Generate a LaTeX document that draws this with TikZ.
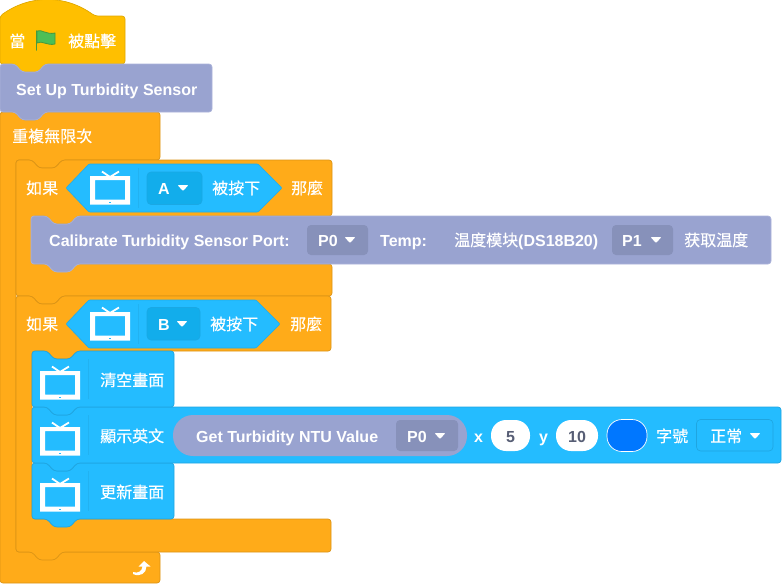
\documentclass[tikz,border=0pt]{standalone}
\usepackage{fontspec}
\setmainfont{Liberation Sans}
\newfontfamily\cjk[FakeBold=0.35]{Noto Sans CJK TC}
\newfontfamily\cjksc[FakeBold=0.35]{Noto Sans CJK SC}
\usepackage{xcolor}
\usepackage{tikz}
\usetikzlibrary{calc}

\definecolor{hatcol}{HTML}{FFBF00}
\definecolor{hatedge}{HTML}{E0A800}
\definecolor{ctrlcol}{HTML}{FFAB19}
\definecolor{ctrledge}{HTML}{DB9416}
\definecolor{sensorcol}{HTML}{99A3D0}
\definecolor{sensoredge}{HTML}{ABB3D9}
\definecolor{sensorfield}{HTML}{8791BA}
\definecolor{tvcol}{HTML}{24BCFF}
\definecolor{tvedge}{HTML}{1FA5E0}
\definecolor{tvfield}{HTML}{12ADEB}
\definecolor{swatch}{HTML}{0077FF}
\definecolor{flagcol}{HTML}{4CBF56}
\definecolor{flagedge}{HTML}{45993D}
\definecolor{numtext}{HTML}{575E75}

\tikzset{
  block/.style={line width=0.7pt,rounded corners=3pt},
  latin/.style={text=white,inner sep=0pt,anchor=base west,font=\fontsize{16}{16}\selectfont\bfseries},
  zh/.style={text=white,inner sep=0pt,anchor=base west,font=\fontsize{16}{16}\selectfont\cjk},
  zhsc/.style={zh,font=\fontsize{16}{16}\selectfont\cjksc},
  num/.style={text=numtext,inner sep=0pt,anchor=base,font=\fontsize{16}{16}\selectfont\bfseries},
  sepline/.style={line width=0.7pt,draw=tvedge!45!tvcol},
}

% Notches, going right or going left
\def\notchR#1#2{-- (#1,#2) -- ++(7,8) -- ++(16,0) -- ++(7,-8)}
\def\notchL#1#2{-- (#1+30,#2) -- ++(-7,8) -- ++(-16,0) -- ++(-7,-8)}

% Screen icon, #1,#2 is the top left of the body
\newcommand{\tvicon}[2]{%
  \draw[white,line width=1.8pt] (#1+12,#2-4.5) -- (#1+20,#2+1) -- (#1+29,#2-4.5);
  \fill[white,even odd rule] (#1,#2) rectangle (#1+40,#2+28.5)
    (#1+5,#2+4) rectangle (#1+35,#2+23.5);
  \fill[tvcol] (#1+19,#2+25.5) rectangle (#1+21,#2+27);
}
% Dropdown arrow
\newcommand{\ddarrow}[2]{%
  \fill[white,rounded corners=1pt] (#1-5.5,#2-3) -- (#1+5.5,#2-3) -- (#1,#2+3) -- cycle;
}

\begin{document}
\begin{tikzpicture}[x=1pt,y=-1pt]
\useasboundingbox (0,0) rectangle (782,584);
% Forever
\draw[block,draw=ctrledge,fill=ctrlcol] (0,112) \notchR{15}{112} -- (160,112) -- (160,160)
  \notchL{32}{160} -- (16,160) -- (16,552) -- (160,552) -- (160,583) -- (0,583) -- cycle;
% If A
\draw[block,draw=ctrledge,fill=ctrlcol] (16,160) \notchR{32}{160} -- (332,160) -- (332,216)
  \notchL{47}{216} -- (32,216) -- (32,264) -- (332,264) -- (332,296)
  \notchL{32}{296} -- (16,296) -- cycle;
% If B
\draw[block,draw=ctrledge,fill=ctrlcol] (16,296) \notchR{32}{296} -- (331,296) -- (331,351)
  \notchL{47}{351} -- (32,351) -- (32,519) -- (331,519) -- (331,552)
  \notchL{32}{552} -- (16,552) -- cycle;
% Hat
\draw[block,draw=hatedge,fill=hatcol] (0,64) -- (0,16) .. controls (30,-5.5) and (65,-5.5) .. (95,16)
  -- (125,16) -- (125,64) \notchL{15}{64} -- cycle;
% Sensor setup
\draw[block,draw=sensoredge,fill=sensorcol] (0,64) \notchR{15}{64} -- (212,64) -- (212,112)
  \notchL{15}{112} -- (0,112) -- cycle;
% Calibrate
\draw[block,draw=sensoredge,fill=sensorcol] (31,216) \notchR{47}{216} -- (771,216) -- (771,264)
  \notchL{47}{264} -- (31,264) -- cycle;
% Screen stack
\draw[block,draw=tvedge,fill=tvcol] (32,463) \notchR{47}{463} -- (174,463) -- (174,519)
  \notchL{47}{519} -- (32,519) -- cycle;
\draw[block,draw=tvedge,fill=tvcol] (32,407) \notchR{47}{407} -- (781,407) -- (781,463)
  \notchL{47}{463} -- (32,463) -- cycle;
\draw[block,draw=tvedge,fill=tvcol] (32,351) \notchR{47}{351} -- (174,351) -- (174,407)
  \notchL{47}{407} -- (32,407) -- cycle;
% Hexagons
\filldraw[line width=0.6pt,draw=tvedge!70!tvcol,fill=tvcol,rounded corners=1pt]
  (66,188) -- (89,164) -- (258,164) -- (282,188) -- (258,212) -- (89,212) -- cycle;
\filldraw[line width=0.6pt,draw=tvedge!70!tvcol,fill=tvcol,rounded corners=1pt]
  (66,324) -- (89,300) -- (256,300) -- (280,324) -- (256,348) -- (89,348) -- cycle;
\draw[sepline] (138,168) -- (138,208);
\draw[sepline] (138,304) -- (138,344);
\draw[sepline] (88,359) -- (88,399);
\draw[sepline] (88,415) -- (88,455);
\draw[sepline] (88,471) -- (88,511);
% Icons
\tvicon{90}{176}
\tvicon{90}{312}
\tvicon{40}{371}
\tvicon{40}{427}
\tvicon{40}{483}
% Dropdown fields
\filldraw[line width=0.6pt,draw=tvedge!60!tvfield,fill=tvfield,rounded corners=4pt] (147,172) rectangle (202,204.5);
\filldraw[line width=0.6pt,draw=tvedge!60!tvfield,fill=tvfield,rounded corners=4pt] (147,307.5) rectangle (200,340);
\fill[sensorfield,rounded corners=4pt] (307,225) rectangle (368,255);
\fill[sensorfield,rounded corners=4pt] (612,225) rectangle (673,255);
\filldraw[line width=0.6pt,draw=tvedge,fill=tvcol,rounded corners=4pt] (696.5,419.5) rectangle (773,451);
% Reporter and inputs
\fill[sensorcol,rounded corners=20pt] (173,415) rectangle (467,456);
\fill[sensorfield,rounded corners=4pt] (396,420) rectangle (458,451);
\fill[white,rounded corners=15pt] (491,420) rectangle (530,451);
\fill[white,rounded corners=15pt] (556,420) rectangle (598,451);
\filldraw[draw=white,line width=0.7pt,fill=swatch,rounded corners=15pt] (607,419.5) rectangle (647,451.5);
\ddarrow{183}{188}
\ddarrow{182}{324}
\ddarrow{350}{240}
\ddarrow{656}{240}
\ddarrow{440}{436}
\ddarrow{755}{436}
% Flag
\filldraw[draw=flagedge,fill=flagcol,line width=0.8pt,line join=round]
  (37,31) .. controls (42,29) and (46,35) .. (55,33) -- (55,44)
  .. controls (47,46) and (42,40) .. (37,43) -- cycle;
\draw[flagedge,line width=1.5pt,line cap=round] (36.5,31) -- (36.5,50);
% Loop arrow
\fill[white] (133,572) .. controls (138,574) and (142,571) .. (142.5,566.5) -- (138.5,566.5) -- (144,561) -- (150.5,566.5)
  -- (146.5,566.5) .. controls (146.5,573) and (140,577.5) .. (133,574) -- cycle;
% Labels
\node[zh] (whenLabel) at (9,47) {當};
\node[zh] (clickLabel) at (68,47) {被點擊};
\node[latin] (setupLabel) at (16,95) {Set Up Turbidity Sensor};
\node[zh] (foreverLabel) at (12,142) {重複無限次};
\node[zh] (ifaLabel) at (26,194) {如果};
\node[latin] (keyaLabel) at (158,194) {A};
\node[zh] (pressaLabel) at (212,194) {被按下};
\node[zh] (thenaLabel) at (291,194) {那麼};
\node[latin] (calLabel) at (49,246) {Calibrate Turbidity Sensor Port:};
\node[latin] (porta) at (318,246) {P0};
\node[latin] (tempLabel) at (380,246) {Temp:};
\node[latin] (moduleLabel) at (454,246) {{\cjksc\mdseries 温度模块}(DS18B20)};
\node[latin] (portb) at (622,246) {P1};
\node[zhsc] (readLabel) at (684,246) {获取温度};
\node[zh] (ifbLabel) at (26,330) {如果};
\node[latin] (keybLabel) at (158,330) {B};
\node[zh] (pressbLabel) at (210,330) {被按下};
\node[zh] (thenbLabel) at (290,330) {那麼};
\node[zh] (clearLabel) at (100,386) {清空畫面};
\node[zh] (showLabel) at (100,442) {顯示英文};
\node[zh] (updateLabel) at (100,498) {更新畫面};
\node[latin] (ntuLabel) at (196,442) {Get Turbidity NTU Value};
\node[latin] (portc) at (407,442) {P0};
\node[latin] (xLabel) at (474,442) {x};
\node[num] (xValue) at (510.5,442) {5};
\node[latin] (yLabel) at (539,442) {y};
\node[num] (yValue) at (577,442) {10};
\node[zh] (sizeLabel) at (656,442) {字號};
\node[zh] (normalLabel) at (710,442) {正常};
\end{tikzpicture}
\end{document}
